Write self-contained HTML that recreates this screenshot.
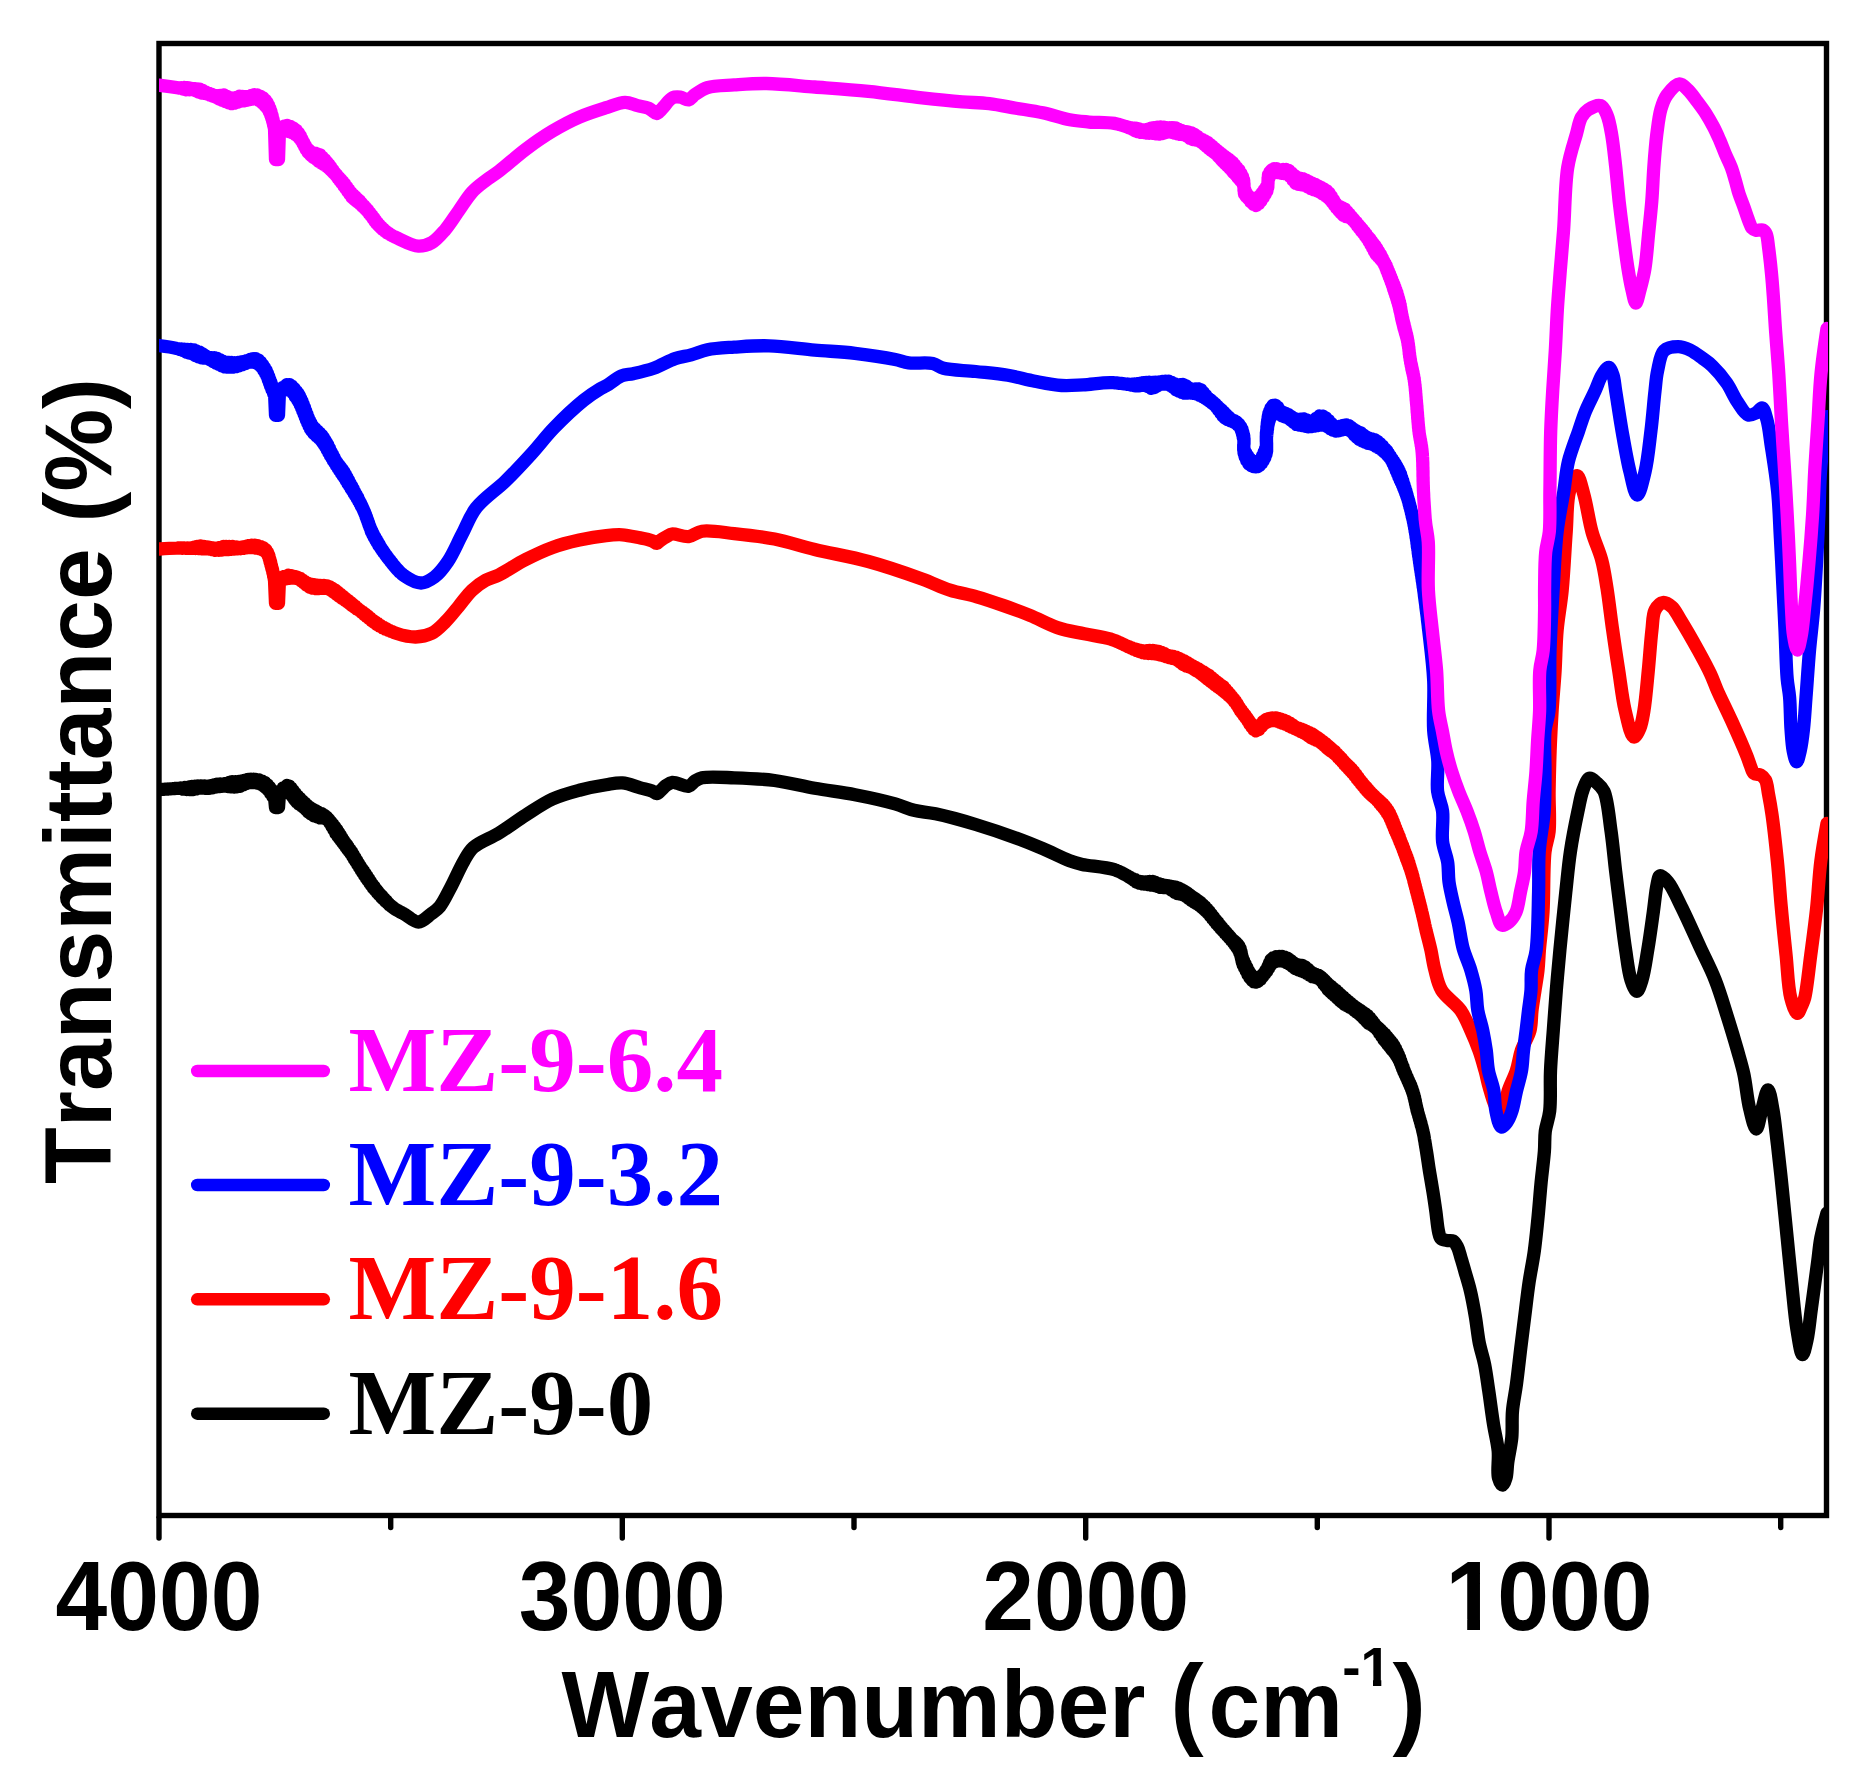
<!DOCTYPE html>
<html lang="en">
<head>
<meta charset="utf-8">
<title>FTIR spectra</title>
<style>
html,body{margin:0;padding:0;background:#fff;}
body{width:1863px;height:1790px;overflow:hidden;}
svg{display:block;}
text{font-kerning:none;}
.sans{font-family:"Liberation Sans",Arial,Helvetica,sans-serif;font-weight:bold;}
.serif{font-family:"Liberation Serif","Times New Roman",Times,serif;font-weight:bold;}
</style>
</head>
<body>
<svg width="1863" height="1790" viewBox="0 0 1863 1790">
<rect x="0" y="0" width="1863" height="1790" fill="#ffffff"/>
<defs><clipPath id="plotclip"><rect x="159" y="40" width="1669" height="1480"/></clipPath></defs>
<g id="frame" fill="none" stroke="#000" stroke-width="5.4" stroke-linecap="butt">
<rect x="159.0" y="43.5" width="1667.5" height="1472.0"/>
<line x1="159.0" y1="1518.0" x2="159.0" y2="1538.0" stroke-linecap="round"/>
<line x1="622.3" y1="1518.0" x2="622.3" y2="1538.0" stroke-linecap="round"/>
<line x1="1085.7" y1="1518.0" x2="1085.7" y2="1538.0" stroke-linecap="round"/>
<line x1="1549.0" y1="1518.0" x2="1549.0" y2="1538.0" stroke-linecap="round"/>
<line x1="390.7" y1="1518.0" x2="390.7" y2="1527.5" stroke-linecap="round"/>
<line x1="854.0" y1="1518.0" x2="854.0" y2="1527.5" stroke-linecap="round"/>
<line x1="1317.3" y1="1518.0" x2="1317.3" y2="1527.5" stroke-linecap="round"/>
<line x1="1780.7" y1="1518.0" x2="1780.7" y2="1527.5" stroke-linecap="round"/>
</g>
<g id="curves" clip-path="url(#plotclip)" fill="none" stroke-width="13.3" stroke-linejoin="round" stroke-linecap="round">
<path id="c-black" stroke="#000000" d="M159 789.7L159.1 789.7L159.6 789.7L160.3 789.6L161.2 789.5L162.3 789.4L163.7 789.3L165.2 789.2L166.8 789.1L168.6 789L170.5 788.8L172.5 788.7L174.5 788.5L176.6 788.4L178.6 788.4L180.7 787.9L182.8 789L184.8 787.6L186.7 789.5L188.6 787L190.3 789.7L191.8 786.5L193.3 789.6L194.8 786.2L196.3 788.9L197.9 785.9L199.4 788L201 785.8L202.6 788.1L204.2 786L205.8 788.4L207.4 786.2L209 788.4L210.7 785.6L212.3 787.8L213.9 784.8L215.5 787.2L217.1 784.2L218.6 786.7L220.2 784L221.8 786.3L223.3 783.9L224.8 786.1L226.2 783.3L227.7 786.5L229.1 782.5L230.5 786.9L232.2 781.6L233.8 787L235.5 781.6L237.2 786.8L238.8 781.5L240.4 786.3L242 780.9L243.6 784.9L245.2 780.1L246.7 783.5L248.1 779.4L249.6 782.7L251 779.2L252.3 782.6L253.6 779.2L254.8 782.7L256 779.5L257.7 783.2L259.4 780L260.9 784.4L262.3 781.1L263.6 785.9L264.8 782.5L266 787.8L267.3 784.7L268.5 790.5L269.6 787.3L270.6 793.4L271.5 790L272.8 796.8L274 794.3L274.5 797L275.5 807.5L278.5 807.5L279.5 793L280 791.3L281.4 793.7L283.2 787.9L285.2 791.7L286.9 785.4L287.9 791.9L289 786L290 793.6L291 788.1L292.1 796.2L293.1 790.8L294.2 799.2L295.3 793.6L296.5 801.9L297.6 796.2L298.7 803.8L299.9 798.5L301.1 805.5L302.3 800.9L303.5 807.2L304.7 803.2L305.9 809.6L307.2 805.3L308.4 812L309.7 807.3L311 814.1L312.5 809.1L314 815.8L315.5 810.7L317 816.9L318.6 812.2L320.1 817.9L321.6 813.6L323.1 818L324.5 815.3L325.6 818.8L326.7 817.2L327.8 820L328.8 819.4L329.8 822.9L330.8 821.8L331.8 826.3L332.8 824.3L333.8 829.8L334.8 827L335.8 833.4L336.9 829.9L337.9 836.2L338.7 832.7L339.5 838.2L340.3 835.2L341.1 840.4L341.9 837.8L342.7 842.6L343.5 840.5L344.3 844.9L345.2 842.8L346 847L346.8 845L347.6 849.2L348.4 847.3L349.3 851.5L350.1 849.6L350.9 853.7L351.8 851.9L352.6 856.2L353.4 854.8L354.2 859L355.1 857.7L355.9 861.7L356.8 860.5L357.6 864.5L358.5 863.4L359.3 867.2L360.2 866.3L361 869.9L361.9 868.7L362.7 872.6L363.6 871.2L364.4 875.2L365.3 873.7L366.2 877.9L367 876.2L367.9 880.4L368.8 878.9L369.7 882.9L370.5 881.6L371.4 885.4L372.3 884.3L373.2 887.8L374.1 886.8L375.1 890.1L376.1 889.5L377.1 892.4L378.1 891.9L379.1 894.6L380.2 894.2L381.2 896.7L382.2 896.5L383.3 898.8L384.3 898.8L385.3 901L386.4 901.1L387.4 903L388.4 903.3L389.5 904.9L390.5 905.3L391.5 906.5L392.9 907.3L394.2 908.4L395.6 909.3L396.9 910.1L398.3 910.8L399.6 911.6L400.9 912.3L402.3 913L403.6 913.7L405 914.5C409.5 917.1 414 922.1 418.4 922C422.7 921.9 427.3 916.8 431 914C434.3 911.5 437.1 909.8 439.9 906.4C443.7 901.8 446.9 894.5 450.6 887.6C454.9 879.5 459.7 868.1 464 860.8C467.2 855.4 468.9 851.5 473.4 847.4C479.4 841.9 490.4 838.3 498.9 833.1C507.8 827.6 516.7 820.8 525.7 815.1C534.6 809.5 543.4 803.2 552.6 799C561.3 795 570.4 792.6 579.4 790.2C588.3 787.9 598.4 786 606.2 784.8C612.2 783.8 616.8 782.5 622.3 782.9C628.2 783.3 634.9 786.3 640.3 787.8C644.6 789 649 789.8 652 791C653.9 791.8 655.1 793.7 656.6 793.6C658.1 793.5 659.5 791.6 661 790.3C662.7 788.9 664.1 786.8 666 785.5C667.9 784.2 669.8 782.7 672.5 782.4C676.6 782 684.6 787.1 688.6 786.2C691.4 785.6 692.7 782.4 695 781C697.2 779.6 698.7 778.5 702 777.8C708.7 776.3 722.9 777.4 734.2 777.8C746.9 778.2 761.1 778.8 774.5 780.5C788 782.3 801.3 785.9 814.7 788.3C828.1 790.7 841.6 792.1 855 794.7C868.5 797.3 884.4 800.8 895.2 803.9C902.7 806 907.5 808.7 914 810.3C920.9 812 927.3 812 935.5 813.8C946.9 816.2 962.4 820.5 975.7 824.5C989.2 828.6 1004 833.6 1016 838C1025.9 841.6 1033.9 844.9 1042.8 848.7C1051.8 852.5 1062.4 858.1 1069.7 860.8C1074.6 862.6 1077 863.2 1082.2 864.4C1090.4 866.2 1104.5 866.6 1114.4 869.7L1115.9 870.2L1117.3 870.8L1118.8 871.4L1120.2 872L1121.6 872.8L1123 873.5L1124.4 874.2L1125.8 875L1127.1 875.7L1128.5 876.7L1129.8 877.2L1131.2 878.5L1132.5 878.6L1133.8 880.3L1135.1 879.8L1136.4 882L1137.7 880.8L1138.9 883L1140.2 881.5L1141.9 883.8L1143.5 881.8L1145 884.2L1146.6 881.8L1148.1 884.7L1149.6 881.4L1151.1 885L1152.7 881.5L1154.2 885.5L1155.8 882.5L1157.4 886.4L1158.8 883.7L1160.2 887.4L1161.6 884.5L1163 887.5L1164.4 885.1L1165.9 887.7L1167.3 885.7L1168.8 888.4L1170.2 886.2L1171.7 890.3L1173.1 886.6L1174.6 892.3L1176 887.1L1177.4 893.6L1178.8 888.3L1180.2 894.1L1181.6 889.5L1182.9 894.8L1184.3 890.9L1185.7 896.2L1187 892.8L1188.4 898.3L1189.7 894.8L1191.1 900.4L1192.4 896.8L1193.8 902.1L1195.1 898.6L1196.4 903.6L1197.7 900.4L1199 905.3L1200.3 902.4L1201.4 907.1L1202.6 904.5L1203.7 909L1204.8 906.6L1205.9 911.1L1207 908.9L1208.1 913.3L1209.2 911.5L1210.3 915.9L1211.4 914.3L1212.5 918.6L1213.6 917.1L1214.6 921.3L1215.7 919.9L1216.7 923.9L1217.8 922.4L1218.8 926.2L1219.8 924.9L1220.8 928.5L1221.8 927.3L1222.8 930.7L1223.9 929.8L1225 933L1226 932.2L1227.1 935.4L1228.2 934.6L1229.2 937.8L1230.3 937.1L1231.3 940.1L1232.3 939.4L1233.3 942.5L1234.2 941L1235.1 945L1236 942.7L1236.8 947.4L1237.6 944.4L1238.3 949.7L1238.9 946.2L1239.6 952.4L1240.2 948.8L1240.7 955.5L1241.1 951.9L1241.4 958.5L1241.7 954.9L1242.1 961.5L1242.5 958L1243 964.6L1243.7 961.1L1244.4 967.5L1245.2 964.2L1246 970.8L1246.9 967.7L1247.8 974.4L1248.7 971.2L1249.7 977.5L1250.7 974.1L1251.7 980L1252.7 976.4L1253.7 981.7L1254.7 977.6L1255.7 982.2L1256.8 977.9L1258 981.4L1259.2 977.4L1260.4 979.3L1261.6 975.7L1262.8 976.4L1263.9 973.6L1265 973.4L1266 970L1266.9 971.1L1267.9 966.7L1268.7 968.3L1269.4 963.1L1270.1 965.5L1270.9 959.9L1272 963.5L1273.2 957.8L1274.6 961.9L1276 956.7L1277.6 961L1279.2 956.4L1280.8 960.9L1282.1 956.4L1283.4 961.3L1284.8 957.1L1286.2 962.4L1287.7 958.2L1289.2 964.1L1290.7 960.4L1292.2 966.4L1293.8 962.8L1295.3 968.6L1296.9 964.7L1298.2 969.9L1299.5 965.1L1300.9 970.9L1302.3 965.5L1303.7 971.9L1305.1 966.8L1306.6 973.4L1308 969.3L1309.4 975.1L1310.9 971.8L1312.2 976.7L1313.6 973.3L1314.9 977.3L1316.1 974.3L1317.3 978.1L1318.4 975.3L1319.7 979.2L1320.8 976.8L1321.9 981.6L1322.9 978.7L1323.8 984.1L1324.8 980.7L1325.8 986.7L1326.8 982.7L1327.9 989.5L1329.1 984.9L1330.1 991.6L1331.1 986.6L1332.2 993.6L1333.3 988.4L1334.5 995.7L1335.7 990.2L1336.9 997.8L1338.1 992.4L1339.3 1000L1340.6 994.7L1341.8 1002.2L1343.1 997L1344.4 1004.3L1345.6 999.2L1346.9 1005.7L1348.2 1001.3L1349.4 1007.1L1350.6 1003.3L1351.8 1008.4L1353 1005.2L1354.2 1010.3L1355.4 1007L1356.6 1012.1L1357.8 1008.7L1359 1013.8L1360.2 1010.3L1361.4 1016L1362.6 1012L1363.8 1018.5L1365 1013.7L1366.2 1021L1367.4 1015.5L1368.6 1023.3L1369.8 1018L1370.9 1024.7L1372.1 1020.7L1373.1 1026.1L1374.2 1023.4L1375.2 1027.6L1376.3 1026L1377.4 1030.1L1378.5 1028L1379.5 1033.2L1380.6 1030L1381.7 1036.4L1382.7 1032.2L1383.8 1039.6L1384.8 1034.4L1385.8 1042.1L1386.9 1036.7L1387.8 1044.5L1388.8 1039L1389.7 1046.9L1390.7 1041.3L1391.5 1049.3L1392.4 1043.6L1393.2 1051.2L1394 1046L1394.7 1053.1L1395.6 1048.8L1396.4 1055.4L1397.1 1051.9L1397.8 1057.7L1398.5 1054.9L1399.1 1060.2L1399.7 1058L1400.3 1062.8L1400.8 1061.1L1401.4 1065.6L1401.9 1064.2L1402.5 1068.5L1403.1 1067.4L1403.7 1071.4L1404.3 1070.5L1405 1074.3L1405.6 1073.7L1406.3 1077.1L1407 1076.8L1407.6 1080L1408.3 1079.8L1408.9 1082.9L1409.6 1082.7L1410.2 1085.9L1410.8 1085.5L1411.3 1088.8L1411.9 1088.4L1412.4 1091.7L1412.9 1091.4L1413.4 1094.8L1413.8 1094.5L1414.2 1097.9L1414.6 1097.6L1414.9 1101L1415.3 1100.7L1415.6 1104.1L1415.9 1103.9L1416.3 1107.2L1416.6 1107L1417 1110.1L1417.4 1110.2L1417.8 1113.1L1418.2 1113.4L1418.7 1116.1L1419.1 1116.6L1419.6 1119.1L1420 1119.8L1420.5 1122.2L1420.9 1123L1421.3 1125.2L1421.7 1126.2L1422.2 1128.2L1422.5 1129.4L1422.9 1131.3L1423.2 1132.5L1423.6 1134.3L1423.9 1135.7L1424.2 1137.4L1424.4 1138.9L1424.7 1140.5L1425 1142L1425.2 1143.6L1425.5 1145.1L1425.7 1146.7L1426 1148.2L1426.2 1149.8L1426.5 1151.3C1427.6 1158 1428.4 1164.7 1429.5 1171.4C1430.6 1178.1 1431.8 1184.8 1432.9 1191.5C1434 1198.2 1434.9 1205 1435.9 1211.7C1436.8 1218.4 1437.4 1226.9 1438.6 1231.8C1439.3 1234.7 1439.5 1237.1 1441 1238.5C1442.4 1239.9 1445 1240.1 1447 1240.5C1449 1240.9 1451.3 1240.1 1453 1241C1454.9 1242 1456.2 1244.6 1457.5 1247C1459.1 1250 1459.8 1254.1 1461 1258C1462.3 1262.4 1463.7 1267.1 1465.1 1272.1C1466.8 1277.9 1468.8 1284.2 1470.4 1291C1472.3 1298.9 1473.9 1308.1 1475.4 1316.8C1476.9 1325.7 1477.7 1335.4 1479.4 1343.7C1480.9 1350.9 1483 1356.6 1484.5 1363.8C1486.2 1372.1 1487.3 1381.2 1488.7 1390.6C1490.3 1401.2 1491.8 1413.6 1493.5 1424.2C1495 1433.7 1497.4 1442 1498.2 1451C1499 1459.9 1496.8 1472.1 1498.5 1478C1499.4 1481.3 1501.4 1485.1 1502.7 1485C1503.9 1484.9 1505.2 1480.9 1506 1478C1507.2 1473.8 1507 1467.9 1507.8 1462C1508.8 1454.7 1511 1446 1511.8 1437.6C1512.6 1428.9 1511.7 1419.7 1512.5 1410.8C1513.3 1401.8 1515.2 1393.8 1516.5 1383.9C1518.1 1371.9 1519.7 1356.5 1521.3 1343.7C1522.7 1332 1524.1 1320.8 1525.5 1310.1C1526.7 1300.3 1527.7 1291.6 1529.1 1282.1C1530.6 1272.2 1532.8 1262 1534.2 1251.9C1535.6 1241.9 1536.5 1232.5 1537.6 1221.7C1538.9 1209.3 1540 1193.9 1541.2 1181.5C1542.3 1170.7 1543.7 1160.4 1544.4 1151.3C1545 1143.9 1544.4 1137.9 1545.3 1131.2C1546.2 1124.4 1548.8 1118.9 1549.7 1111C1551 1099.9 1549.9 1084.2 1550.5 1070.8C1551.1 1057.4 1552.3 1043.9 1553.3 1030.5C1554.3 1017.1 1555.2 1003.7 1556.3 990.3C1557.4 976.9 1558.5 964.7 1559.9 950C1561.6 932.4 1563.9 909.5 1565.8 891.9C1567.4 877.3 1568.4 865.1 1570.4 851.7C1572.4 838.2 1575.5 822.7 1577.9 811.4C1579.7 803.1 1580.7 796 1583 790C1584.8 785.3 1586.8 778.9 1589.5 778.2C1591.7 777.6 1594.7 781 1597 783C1599.6 785.2 1602 787.1 1604 791.3C1607.8 799.4 1609.1 818.1 1611.1 831.5C1613 844.9 1614.1 858.4 1615.7 871.8C1617.3 885.2 1619 899 1620.7 912.1C1622.3 924.7 1623.7 937.3 1625.5 949C1627.2 959.8 1628.4 972.4 1631 980C1632.6 984.9 1635 991.3 1636.8 991.3C1638.6 991.3 1640.5 984.8 1642 980C1644.5 972.3 1646.1 959.8 1647.9 949C1649.9 937.3 1651.7 923.5 1653.3 912.1C1654.7 902.4 1655.5 891.6 1657 885C1657.9 881.1 1658.2 876.4 1660 875.8C1661.8 875.2 1665.3 878.8 1668 882C1672.6 887.4 1677.2 898.3 1682 908C1687.9 919.9 1694.8 935.7 1700.6 948.3C1705.8 959.5 1710.9 969 1715.2 980C1719.7 991.3 1723.2 1003.4 1726.9 1015.2C1730.6 1026.9 1734.5 1039.8 1737.5 1050.4C1739.9 1059 1741.9 1065.2 1743.8 1073.9C1746.1 1084.4 1747.2 1099 1749.7 1109C1751.6 1116.7 1754.2 1129 1756.3 1129C1758.3 1129 1760 1115.6 1762 1109C1763.9 1102.5 1766.2 1089.7 1768 1089.8C1769.9 1089.9 1771.6 1102.3 1773 1110C1774.8 1119.9 1775.9 1131.9 1777.4 1144.2C1779.1 1158.6 1780.9 1175.5 1782.5 1191.2C1784.1 1206.8 1785.6 1222.5 1787.2 1238.1C1788.8 1253.7 1790.2 1269.5 1791.9 1285C1793.5 1300.2 1794.9 1317.3 1797 1330C1798.6 1339.4 1800.6 1354.4 1802.5 1354.5C1804 1354.6 1805.7 1345.8 1807 1340C1808.9 1331.6 1809.8 1320 1811.4 1308.5C1813.3 1294.4 1816 1274.6 1817.7 1261.6C1818.9 1252.4 1819.3 1246 1820.8 1238.1C1822.4 1229.8 1827 1213 1827 1213"/>
<path id="c-red" stroke="#ff0000" d="M159 549C159 549 170.3 548.2 176.8 548.1L178.2 548L179.7 548.1L181.2 547.9L182.7 548.3L184.3 548L185.9 548.4L187.5 547.9L189.1 548.4L190.7 547.9L192.4 548.3L194 547.3L195.6 548.5L197.3 546.5L198.9 548.7L200.5 545.9L202.1 548.8L203.7 546.4L205.3 548.9L206.9 546.8L208.6 549L210.2 547.3L211.9 549.7L213.5 547.9L215.2 550.4L216.9 548.1L218.5 550.3L220.1 547.3L221.7 550L223.3 546.5L224.8 549.7L226.3 546.3L227.8 549.6L229.2 546.3L230.5 549.4L232.4 546.4L234.2 549.2L235.9 547L237.5 548.9L239.1 547.5L240.7 548.6L242.3 547.2L243.9 548.3L245.5 546.4L247 547.9L248.6 545.6L250.1 547.6L251.6 545.2L253.1 547.6L254.6 545.2L256 548.2L257.6 545.7L259.1 548.7L260.7 546.6L262.2 549.8L263.6 548L264.9 551.4L266 549.9L266.9 553.4L267.6 552.3L268.2 556L268.8 555.2L269.3 559.1L269.7 558.5L270.1 562.3L270.6 561.8L271 565.5L271.4 565L271.9 568.8L272.4 568.8L272.9 572.9L273.3 572.8L273.7 576.8L274 576.3L274.3 579.7L274.4 578.4L274.5 580L275.5 603.3L278.5 603.3L279.5 579L280.1 578.3L281.7 580.1L283.9 576.6L286.2 578.8L288.2 575.2L289.7 578.3L291.3 575.6L292.8 578.1L294.4 576.3L296 578.3L297.6 577.2L298.9 579.3L300.2 578.3L301.4 581L302.7 580.1L304.1 583.1L305.4 581.9L306.7 585.3L308.1 583.3L309.6 587.1L311 584.1L312.5 588.1L314.1 584.7L315.7 588.5L317.3 585.1L319 588.6L320.6 585.3L322.3 588.3L323.9 585.3L325.5 588.3L327.1 585.9L328.5 589L329.9 587L331.2 590.6L332.6 588.5L333.9 592.4L335.3 590.2L336.6 594.4L337.9 592.2L339.2 596.3L340.6 594.4L341.9 598.2L343.2 596.5L344.4 599.9L345.7 598.5L346.9 601.7L348.1 600.4L349.4 603.6L350.6 602.3L351.8 605.5L353 604.4L354.3 607.2L355.5 606.5L356.8 608.9L358 608.6L359.3 610.6L360.5 610.7L361.7 612.5L363 612.4L364.2 614.5L365.4 614.2L366.7 616.6L367.9 616.1L369.2 618.6L370.4 618.2L371.7 620.7L372.9 620.2L374.2 622.6L375.5 622.1L376.8 624.4L378.1 623.9L379.5 626L380.9 625.7L382.3 627.6L383.8 627.4L385.2 629L386.6 629L388.1 630.2L389.6 630.5L391 631.4L392.5 631.8L394 632.5L395.4 633L396.9 633.5C403 635.5 409.7 637.1 415.7 637C421.3 636.9 426.9 635.7 431.8 633.3C436.8 630.8 440.9 626.3 445.2 622C449.9 617.4 454.2 611.7 458.6 606.4C463.1 601.1 467.2 594.8 472 590.3C476.3 586.3 480.8 583 485.5 580.4C489.8 578 493.8 577.5 498.9 575C506.4 571.3 516.6 564.1 525.7 559.5C534.5 555 543.5 550.7 552.6 547.4C561.4 544.2 570.4 542.1 579.4 540.1C588.3 538.1 598.4 536.4 606.2 535.6C612.2 534.9 616.8 534.5 622.3 534.8C628.2 535.2 635.8 537.1 640.3 537.9C643.1 538.4 644.9 538.7 647 539.2C648.9 539.7 650.8 540.3 652.5 541C654.1 541.7 655.4 543.5 656.8 543.4C658.3 543.3 659.4 541.1 661 540C662.8 538.7 665.1 537.3 667 536.3C668.7 535.4 669.8 534.3 672 534C675.9 533.5 683.4 537.2 688.6 536.6C693.4 536.1 696.4 532.1 702 531.2C710.3 529.9 722.9 532.4 734.2 533.6C746.9 534.9 761.2 536.4 774.5 539C788 541.7 800.3 546 814.7 549.5C831.3 553.5 850.6 556.6 868.4 561.5C886.4 566.4 907.1 573.6 922 579C932.9 582.9 940.7 587.1 950 590.1C958.9 593 967.9 594.2 976.8 596.8C985.8 599.4 994.8 602.5 1003.7 605.6C1012.7 608.7 1021.6 612 1030.5 615.6C1039.5 619.3 1048.3 624.5 1057.4 627.6C1066.2 630.6 1075.3 631.9 1084.2 633.8C1093.1 635.7 1102.2 636.5 1111 639.2L1112.4 639.7L1113.9 640.2L1115.3 640.7L1116.7 641.3L1118.1 641.9L1119.5 642.6L1120.9 643.2L1122.3 643.9L1123.7 644.5L1125.1 645.2L1126.6 645.8L1128 646.7L1129.4 646.9L1130.8 648L1132.2 648L1133.6 649.3L1135 649L1136.5 650.5L1137.9 649.8L1139.4 651.6L1140.8 650.4L1142.3 652.6L1143.8 650.8L1145.3 653.2L1146.8 650.7L1148.3 653.5L1149.8 650.4L1151.3 653.6L1152.8 650.4L1154.3 653.9L1155.8 650.9L1157.3 654.4L1158.8 651.5L1160.3 655L1161.8 652.4L1163.2 655.7L1164.7 653.7L1166.1 656.7L1167.6 655.2L1169 657.7L1170.4 655.8L1171.9 658.3L1173.3 656.4L1174.7 659L1176.1 657.1L1177.5 660.4L1178.9 658.3L1180.3 662.4L1181.7 659.6L1183.1 664.5L1184.5 661L1185.9 665.8L1187.3 662.6L1188.7 666.9L1190.1 664.3L1191.5 667.9L1192.8 665.8L1194.1 669.4L1195.5 667.3L1196.8 671.1L1198.2 668.8L1199.5 672.8L1200.8 670.3L1202.2 674.9L1203.5 671.9L1204.9 677L1206.2 673.6L1207.5 679.2L1208.8 675.4L1210.1 681.1L1211.4 677.4L1212.6 683L1213.8 679.5L1215 684.9L1216.2 681.5L1217.3 686.6L1218.4 683L1219.7 688.2L1220.9 684.9L1222.1 690.1L1223.3 686.8L1224.4 691.9L1225.5 689.1L1226.6 693.7L1227.7 691.6L1228.7 695.6L1229.8 694.1L1230.8 697.4L1231.7 696.5L1232.7 699.4L1233.6 698.8L1234.5 701.7L1235.6 701.4L1236.6 704.6L1237.5 704.3L1238.5 707.4L1239.3 707.2L1240.2 710.3L1241.1 709.8L1242 712.8L1242.9 712.3L1243.9 715.4L1244.8 714.8L1245.8 718L1246.8 717.5L1247.8 720.9L1248.8 720.4L1249.8 724.2L1250.8 723.3L1251.9 727.2L1252.9 725.7L1253.9 729.6L1255 727.2L1256 730.9L1257.4 727.1L1258.8 729.5L1260.2 724.8L1261.6 726.6L1263.1 721.6L1264.5 723.6L1266 719.5L1267.6 722L1269.2 718.5L1270.8 720.9L1272.4 717.9L1274.2 720.6L1276.1 717.9L1277.3 721.3L1278.5 718.4L1279.8 722.2L1281.2 719.2L1282.5 723.2L1284 720.2L1285.4 724.3L1286.9 721.4L1288.4 725.7L1289.9 723.1L1291.4 727.1L1292.9 725.1L1294.4 728.6L1295.9 727.1L1297.4 730L1298.9 728.2L1300.2 731.3L1301.5 729.2L1302.9 732.5L1304.2 730.2L1305.6 734.1L1306.9 731.4L1308.3 735.9L1309.6 732.6L1311 737.8L1312.4 734L1313.7 739.1L1315.1 735.8L1316.5 740.3L1317.8 737.7L1319.1 741.5L1320.5 739.7L1321.8 743.4L1323.1 741.6L1324.4 745.7L1325.7 743.7L1326.8 747.9L1328 745.6L1329.1 749.8L1330.2 747.5L1331.4 751.5L1332.5 749.5L1333.6 753.2L1334.8 751.5L1335.9 755L1337 753.8L1338.1 757.3L1339.2 756.1L1340.3 759.7L1341.4 758.5L1342.5 762.1L1343.5 760.9L1344.6 764.5L1345.6 763.1L1346.7 766.7L1347.7 765.1L1348.7 768.9L1349.7 767.1L1350.7 771L1351.6 769L1352.6 773.2L1353.7 771.6L1354.9 775.9L1356 774.5L1357 778.6L1358.1 777.3L1359.1 781.3L1360.1 780.1L1361.1 783.8L1362.1 782.5L1363.1 786.2L1364.1 784.8L1365.1 788.6L1366.1 787.2L1367.1 790.9L1368.1 789.6L1369.1 793.1L1370.1 791.8L1371.1 795L1372.2 793.9L1373.2 796.9L1374.3 795.9L1375.4 798.8L1376.4 798L1377.5 801L1378.6 799.9L1379.7 803.4L1380.7 801.8L1381.7 805.8L1382.7 803.8L1383.7 808.2L1384.6 805.9L1385.5 810.7L1386.4 808.2L1387.2 813.2L1388.1 810.7L1388.9 816L1389.6 813.4L1390.3 818.9L1391 816.3L1391.6 821.9L1392.2 819.1L1392.8 824.8L1393.4 822.1L1394 827.6L1394.5 825.1L1395.1 830.4L1395.7 828.1L1396.3 833.2L1396.9 831.1L1397.5 835.9L1398.1 834.1L1398.7 838.6L1399.3 837L1399.8 841.4L1400.4 840L1401 844.2L1401.5 842.9L1402.1 847.1L1402.7 845.8L1403.2 850L1403.8 848.7L1404.3 852.9L1404.8 851.6L1405.4 855.7L1405.9 854.4L1406.4 858.6L1407 857.3L1407.5 861.4L1408 860.2L1408.5 864.2L1409 863.3L1409.5 867L1410 866.4L1410.5 869.8L1410.9 869.4L1411.4 872.6L1411.9 872.5L1412.3 875.7L1412.8 875.7L1413.2 878.7L1413.6 878.9L1414 881.7L1414.4 882.1L1414.8 884.8L1415.2 885.3L1415.6 887.8L1416 888.5L1416.4 890.9L1416.8 891.6L1417.2 893.9L1417.6 894.8L1418 897L1418.4 897.9L1418.8 900L1419.2 901.1L1419.6 903.1L1420 904.2L1420.4 906.2L1420.8 907.4L1421.1 909.2L1421.5 910.5L1421.9 912.3L1422.3 913.6L1422.6 915.4L1423 916.7L1423.3 918.4L1423.7 919.9L1424.1 921.5L1424.4 923L1424.7 924.6L1425.1 926.1L1425.4 927.6L1425.8 929.2L1426.1 930.7L1426.5 932.2C1428 938.3 1429.5 943.9 1430.9 950C1432.3 956.5 1433.1 963.4 1434.9 970.1C1436.7 976.9 1437.8 984 1441.6 990.3C1445.9 997.5 1455.7 1003.3 1460.7 1010.4C1465.2 1016.8 1467.7 1023.7 1470.8 1030.5C1473.8 1037.1 1476.6 1043.8 1479 1050.6C1481.4 1057.3 1483.3 1064.4 1485.1 1070.8C1486.7 1076.5 1487.5 1081.4 1489.1 1086.9C1490.8 1092.8 1492.6 1100.3 1495 1105C1496.8 1108.4 1499.3 1113.2 1501 1113C1502.6 1112.9 1503.9 1108.1 1505 1105C1506.4 1101 1506.6 1095.9 1508.2 1090.9C1510.1 1084.7 1514.1 1077.6 1516.3 1070.8C1518.5 1064.1 1519.1 1057.2 1521.3 1050.6C1523.6 1043.8 1528.2 1037.3 1530 1030.5C1531.7 1023.9 1531.2 1017.1 1532 1010.4C1532.8 1003.7 1534 997 1535 990.3C1536 983.6 1537.3 976.8 1538 970.1C1538.7 963.4 1538.8 957.7 1539.4 950C1540.3 939.3 1542.1 926.2 1543 912.1C1544.1 894.3 1543.3 866.4 1545 851.7C1546 843.1 1548.3 839.4 1549.1 831.5C1550.2 820.4 1548.9 804.7 1549.1 791.3C1549.3 777.9 1549.6 764.4 1550.1 751C1550.6 737.6 1551.3 724.2 1552.1 710.8C1552.9 697.4 1554.3 683.9 1555.1 670.5C1555.9 657.1 1555.9 643.7 1557.1 630.3C1558.3 616.9 1560.8 604.7 1562.2 590C1563.9 572.4 1564.9 549.5 1566.2 531.9C1567.3 517.3 1566.7 501.9 1569.4 491.7C1571.2 484.9 1574.7 475.5 1577.1 475.6C1579.6 475.7 1581.8 487.4 1584 495C1586.9 505.3 1588.8 520.5 1592 531.9C1594.8 542 1599.2 550.5 1601.7 560C1604.2 569.3 1605.3 577.9 1607 588.3C1609 600.9 1610.7 616.5 1612.7 630.3C1614.6 643.9 1616.6 657.1 1618.7 670.5C1620.8 683.9 1622.3 698.9 1625.2 710.8C1627.6 720.6 1630.7 736.6 1633.8 737C1635.8 737.3 1638.4 731.7 1640 728C1642 723.3 1642.7 717.8 1643.9 710.8C1645.7 700.2 1647 683.9 1648.3 670.5C1649.6 657.1 1650.6 641.4 1651.9 630.3C1652.9 622.4 1652.5 614.9 1655 610.1C1656.9 606.5 1660.1 602.9 1663 602.5C1665.8 602.1 1669.4 604.7 1672 607C1675.2 609.8 1676.9 614 1680 619C1684.9 626.9 1692.8 640.6 1698.2 650.4C1702.8 658.7 1707.1 666.7 1710.5 673.9C1713.3 679.9 1714.6 684.3 1717.4 690.6C1721.2 699.2 1726.9 710.3 1731.6 720.8C1736.7 732 1743.6 747.8 1746.9 756C1748.6 760.3 1749.2 762.9 1750.5 766C1751.6 768.7 1752.2 772 1754 773.5C1755.6 774.8 1758.6 773.9 1760.5 775C1762.5 776.1 1764.2 777.7 1765.5 780C1767.3 783.3 1767.5 788.9 1768.5 794C1769.7 800.2 1770.8 806.3 1772 814.6C1773.8 827 1775.8 845.8 1777.4 861.5C1779 877.1 1779.9 892.8 1781.4 908.5C1782.8 924.1 1784.5 940.2 1786.1 955.4C1787.6 969.8 1788 987.1 1790.7 997.6C1792.4 1004.3 1795.2 1013.2 1797.3 1013.3C1798.9 1013.4 1800.7 1007.7 1802 1005C1803.2 1002.5 1803.9 1001.1 1804.8 997.6C1806.9 989.4 1808.8 969.8 1810.7 955.4C1812.7 940.2 1814.9 924.2 1816.6 908.5C1818.3 892.9 1818.9 876.3 1820.8 861.5C1822.5 848.1 1827 823.5 1827 823.5"/>
<path id="c-blue" stroke="#0000ff" d="M159 345.5C159 345.5 170.6 347 176.8 348.4L178.3 348.7L179.8 349.4L181.3 348.9L182.9 350.7L184.4 349.2L186 352L187.5 349.4L189.1 353L190.7 349.5L192.2 353.9L193.8 349.8L195.3 355.5L196.8 351L198.3 356.9L199.8 352.2L201.3 357.8L202.8 353.9L204.2 358.2L205.7 355.8L207.1 358.5L208.6 357.3L210 359.8L211.5 357.6L212.9 361.5L214.3 357.7L215.7 363L217.1 358.4L218.6 364.4L220.1 359.8L221.6 365.8L223.2 361.3L224.7 366.9L226.2 362.1L227.6 367.1L229.1 362.4L230.5 367.1L231.9 362.5L233.2 367L234.8 362.7L236.4 366.6L237.9 362.5L239.4 365.8L240.9 362L242.4 364.7L243.9 361.4L245.4 363.7L247 360.6L248.5 362.4L250.1 359.4L251.7 362.1L253.2 358.6L254.6 362.5L256 358.7L257.2 363.5L258.4 360L259.5 365.1L260.6 362.2L261.7 367.4L262.7 364.9L263.6 370.1L264.5 367.8L265.4 373.1L266.2 370.6L266.9 376.3L267.6 373.6L268.2 379.6L268.8 376.7L269.4 382.9L269.9 379.8L270.5 386L271 382.6L271.9 389.6L272.8 386.8L273.6 393.6L274.3 390.3L274.5 392L275.5 415.3L278.5 415.3L279.5 391L280 390.1L281.1 392.6L282.8 387.5L284.7 389.8L286.6 384.7L288.2 388.2L289.4 384.6L290.6 390.2L291.8 386.2L293 393.1L294.2 388.7L295.3 396.8L296.5 391.6L297.6 400.2L298.3 394.1L298.9 402.3L299.6 396.3L300.2 404.8L300.8 398.8L301.5 407.7L302.1 401.7L302.7 410.7L303.3 404.7L304 413.9L304.6 407.9L305.2 417.1L305.8 411.3L306.4 420.2L307.1 414.7L307.7 423.3L308.3 417.8L309 426.1L309.6 420.8L310.3 428.6L310.9 423.4L311.6 430.7L312.7 426.1L313.8 433.5L315 428.7L316.2 435.8L317.3 431L318.5 437.8L319.6 433.2L320.7 440L321.8 435.5L322.7 442.4L323.5 437.8L324.2 444.7L325 440.2L325.7 447.2L326.5 442.7L327.2 449.8L327.9 445.3L328.7 452.6L329.5 448.6L330.3 455.5L331.2 452.1L331.9 458.2L332.6 454.8L333.3 460.6L334.1 457.6L334.8 463L335.6 460.5L336.4 465.6L337.2 462.9L338.1 468.1L338.9 465.1L339.7 470.7L340.5 467.3L341.4 473.2L342.2 469.6L343 475.7L343.9 471.9L344.7 478.3L345.5 474.7L346.3 480.8L347 477.6L347.8 483.2L348.6 480.4L349.4 485.8L350.1 483.3L350.9 488.3L351.7 486.2L352.5 490.8L353.2 489L354 493.3L354.8 491.9L355.5 495.7L356.3 494.8L357 498.2L357.8 497.6L358.5 500.7L359.2 500.5L359.9 503.2L360.6 503.3L361.3 505.9L361.9 506L362.6 508.5L363.2 508.8L363.8 511.2L364.4 511.6L365 514L365.5 514.4L366.1 516.8L366.6 517.3L367.1 519.6L367.6 520.1L368.1 522.4L368.6 523L369.1 525.4L369.6 525.7L370.2 528.3L370.7 528.5L371.3 531.2L372 531.3L372.6 534.1L373.3 534L374 536.9L374.7 536.6L375.5 539.7L376.2 539.3L377 542.3L377.8 542.1L378.6 544.9L379.4 544.9L380.3 547.5L381.1 547.7L382 550L382.9 550.5L383.8 552.5L384.6 553.1L385.5 554.9L386.4 555.6L387.3 557.2L388.1 558L389 559.4L389.9 560.3L390.7 561.6L391.8 562.7L392.9 564.2L393.9 565.4L395 566.8L396 568L397.1 569.2L398.2 570.3L399.2 571.5L400.3 572.5L401.5 573.5L402.6 574.5L403.8 575.4L405 576.3C409.9 579.6 416 583.1 421.1 583C425.8 582.9 430.3 580.1 434.5 577C439.4 573.4 443.7 567.7 447.9 561.5C453 554 457.2 543.6 461.9 534.7C466.6 525.8 469.6 516.3 476.1 507.9C483.6 498.2 496.3 490.1 505.6 481C514.6 472.2 522.9 463.2 531.1 454.2C539.2 445.4 546 436.1 554.5 427.4C563.4 418.2 574.9 407.4 583.4 400.5C589.5 395.6 595.7 391.6 600 389C602.5 387.5 603.7 387.2 606.2 385.8C610.2 383.5 616.6 377.8 621.5 375.8C625.5 374.2 628.7 374.7 633.1 373.7C639 372.4 646.9 370.7 653.7 368.3C660.9 365.8 668.4 360.9 675.1 358.6C680.7 356.7 685.9 356.4 691.2 354.9C696.6 353.4 701.3 351.1 707.4 349.8C715.1 348.2 724.7 347.8 734.2 347.1C745.1 346.4 756.7 345.4 769.1 345.8C783.3 346.2 800 348.8 814.7 350.1C828.5 351.3 841.6 351.7 855 353.3C868.4 354.9 885.4 357.5 895.2 359.5C900.9 360.7 903.4 362.2 908.6 362.9C915.4 363.8 926.5 362.1 932.8 363.5C937.2 364.5 938.8 367.1 943.5 368.3C951.2 370.4 965 370.3 975.7 371.5C986.4 372.7 997.7 373.6 1007.9 375.3C1017.3 376.9 1025.8 379.5 1034.8 381.2C1043.7 382.9 1053.1 384.9 1061.6 385.5C1069.1 386 1075.5 385.3 1083.1 384.9C1091.6 384.4 1101.2 382.6 1110.1 382.6L1111.6 382.6L1113.2 382.7L1114.8 382.8L1116.4 382.9L1117.9 383.1L1119.5 383.3L1121.1 383.4L1122.7 383.6L1124.3 383.8L1125.8 384L1127.3 384.4L1128.8 384.2L1130.3 385L1131.8 384.2L1133.2 385.5L1134.6 384L1135.9 385.9L1137.6 383.7L1139.1 385.8L1140.6 383.2L1142.1 385.3L1143.5 382.6L1145 385.3L1146.4 382.3L1147.8 386.6L1149.3 382.2L1150.9 388.3L1152.4 382.3L1154 387.7L1155.7 382.2L1157.3 385.8L1159 382L1160.7 384.3L1162.3 381.5L1164 384.1L1165.6 381.2L1167.2 384.1L1168.7 381.2L1170.2 385.4L1171.8 382.3L1173.3 387.5L1174.7 383.8L1176.1 389.8L1177.5 384.7L1178.8 391.1L1180.2 384.7L1181.6 392.4L1183.1 384.5L1184.6 393.2L1186 385.8L1187.6 393.1L1189.1 387.8L1190.7 393L1192.2 389.6L1193.7 393.3L1195.2 389L1196.7 394.1L1198.1 388.8L1199.5 395.3L1200.8 389.7L1202.1 396.6L1203.4 392.5L1204.7 398L1205.9 395.3L1207.2 399.6L1208.4 398.2L1209.7 401.4L1211 400.2L1212.1 403.2L1213.1 402L1214.2 405.1L1215.3 404L1216.4 407.2L1217.5 406.1L1218.5 410.1L1219.6 408.2L1220.7 413.1L1221.8 410.3L1222.9 415.9L1223.9 412.3L1225 418.1L1226.1 414.6L1227.4 419.5L1228.8 417L1230.2 420.8L1231.6 419.3L1233 421.9L1234.4 420.7L1235.6 423.3L1236.8 422.2L1237.9 425L1238.9 424.1L1239.8 427.2L1240.7 426.6L1241.4 430.7L1242 429.4L1242.5 434.3L1242.9 432.4L1243.3 437.9L1243.7 435.6L1243.9 441.3L1244 438.4L1244 444.3L1243.9 441.5L1243.8 447.3L1243.7 444.6L1243.7 450.3L1243.8 447.7L1244.1 453.5L1244.5 450.5L1245.1 456.8L1245.8 453.1L1246.7 460.6L1247.7 456.1L1248.8 464L1249.9 459L1251.1 465.6L1252.2 461.6L1253.4 466.7L1254.5 463.3L1255.5 466.8L1256.5 463.7L1257.5 466.7L1258.5 462.3L1259.5 465.5L1260.5 459.5L1261.5 463.3L1262.4 456L1263.3 460.4L1264.1 452.2L1264.9 457.3L1265.5 448.8L1266 454.5L1266.4 445.7L1266.6 451.6L1266.6 442.6L1266.6 448.4L1266.5 439.4L1266.4 445.2L1266.3 436.1L1266.3 441.8L1266.4 432.6L1266.5 438.7L1266.7 429.8L1266.8 435.7L1266.9 426.6L1267.1 432.5L1267.3 423.3L1267.5 429.3L1267.7 419.9L1267.9 426.1L1268.2 416.7L1268.5 423.2L1268.8 413.7L1269.2 420.6L1269.6 411.1L1270 418.5L1270.9 408.1L1271.8 415.4L1272.9 405.4L1274.1 412.9L1275.4 405.2L1276.5 412.5L1277.7 407.3L1279 414L1280.4 410.6L1281.8 415.7L1283.3 412.3L1284.7 417L1286.2 413.5L1287.6 417.6L1288.9 414.7L1290.4 419.8L1291.8 416.8L1293.3 422.2L1294.7 418.7L1296.2 424.4L1297.6 419.5L1299 425.1L1300.6 419.2L1302.1 425.7L1303.6 418.8L1305.1 426.3L1306.7 420L1308.2 426.8L1309.8 421.1L1311.4 426.7L1313 420.7L1314.6 426.2L1316.2 418.3L1317.9 425.5L1319.5 416L1321.1 425L1322.7 416.1L1324.2 425.1L1325.6 417.8L1327.1 426.5L1328.5 420.5L1329.9 428.5L1331.4 423.5L1332.8 430.2L1334.2 425.9L1335.6 431L1337.1 426.9L1338.7 430.9L1340.2 426.2L1341.7 430L1343.3 425.3L1344.8 429.3L1346.3 424.9L1347.5 429.4L1348.7 425.7L1349.8 430.6L1351 427.3L1352.1 432.4L1353.3 429L1354.4 435L1355.6 430.5L1356.8 437.4L1358 431.7L1359.2 439.3L1360.6 432.7L1362 440.8L1363.4 434.9L1364.9 442.1L1366.3 436.9L1367.8 443.3L1369.2 438.2L1370.6 443.9L1372 438.8L1373.4 445L1374.7 439.8L1376 446.4L1377.4 441.4L1378.7 447.9L1380 443.6L1381.3 449.6L1382.5 446L1383.7 451.6L1384.9 448.6L1385.9 453.5L1386.8 450.9L1387.7 455.5L1388.6 453.5L1389.5 457.7L1390.4 456.2L1391.3 460.1L1392.1 459L1392.9 463.2L1393.7 461.4L1394.5 466.8L1395.3 463.9L1396.1 470.4L1396.8 466.5L1397.5 473.7L1398.2 469L1398.8 476.9L1399.4 471.7L1400.1 480L1400.7 474.7L1401.2 482.4L1401.8 478.1L1402.4 484.9L1402.9 481.4L1403.5 487.5L1404 484.7L1404.5 490.1L1405 488L1405.5 492.7L1406 491.2L1406.5 495.5L1407 494.6L1407.5 498.4L1407.9 498L1408.4 501.4L1408.8 501L1409.2 504.5L1409.6 504L1410 507.5L1410.4 507L1410.8 510.5L1411.1 510L1411.5 513.5L1411.9 513L1412.2 516.6L1412.6 516L1412.9 519.5L1413.2 519L1413.5 522.5L1413.8 521.9L1414.1 525.5L1414.4 525.1L1414.7 528.7L1415 528.5L1415.2 531.8L1415.4 531.2L1415.7 534.5L1415.9 534.1L1416.1 537.5L1416.3 537.2L1416.6 540.5L1416.8 540.4L1417 543.6L1417.2 543.6L1417.4 546.8L1417.7 546.9L1417.9 550L1418.1 550.2L1418.3 553.2L1418.5 553.5L1418.7 556.4L1419 556.8L1419.2 559.5L1419.4 559.9L1419.6 562.5L1419.8 563.1L1420.1 565.6L1420.3 566.2L1420.5 568.6L1420.7 569.3L1421 571.6L1421.2 572.4L1421.4 574.6L1421.7 575.5L1421.9 577.6L1422.1 578.5L1422.3 580.6L1422.6 581.6L1422.8 583.6L1423 584.8L1423.2 586.8L1423.5 588.1L1423.7 590.1L1423.9 591.2L1424.1 592.8L1424.3 594L1424.4 595.6L1424.6 596.9L1424.8 598.4L1425 599.8L1425.2 601.3L1425.4 602.7L1425.6 604.2L1425.8 605.7L1425.9 607.2L1426.1 608.7L1426.3 610.2L1426.5 611.7L1426.7 613.2L1426.9 614.7L1427.1 616.3L1427.3 617.8L1427.4 619.3L1427.6 620.9L1427.8 622.5L1428 624L1428.2 625.6L1428.3 627.2L1428.5 628.7L1428.7 630.3C1430.5 646.1 1432.9 663.8 1433.7 680.6C1434.5 697.3 1432.7 716.3 1433.7 730.9C1434.5 742.3 1437.2 751 1437.8 761.1C1438.4 771.1 1436.5 782.3 1437.6 791.3C1438.5 798.7 1441.7 804 1442.6 811.4C1443.7 820.4 1441.5 832.6 1442.6 841.6C1443.5 849 1446.5 854.9 1447.6 861.7C1448.7 868.4 1448.1 875.2 1449 881.9C1449.9 888.6 1451.6 895.3 1453.1 902C1454.6 908.7 1456.5 914.9 1458.1 922.1C1459.9 930.2 1460.9 940 1463.1 948.3C1465.2 956 1468.6 962.9 1470.8 970.1C1472.8 976.9 1474.6 983.5 1475.8 990.3C1477 997 1476.6 1003.7 1477.8 1010.4C1479 1017.1 1481.4 1023.8 1482.8 1030.5C1484.2 1037.2 1485.3 1043.9 1486.3 1050.6C1487.2 1057.3 1487.2 1064.1 1488.5 1070.8C1489.8 1077.6 1492.7 1084.1 1493.9 1090.9C1495.1 1097.6 1494.5 1104.7 1495.9 1111C1497.1 1116.7 1499 1126.5 1501.4 1127.1C1503 1127.5 1505.4 1124.2 1507 1122C1509.1 1119.2 1510.6 1115.3 1512 1111C1513.9 1105.4 1514.9 1097.6 1516.5 1090.9C1518.1 1084.2 1520.3 1077.6 1521.5 1070.8C1522.7 1064.1 1522.7 1057.3 1523.5 1050.6C1524.3 1043.9 1525.3 1037.2 1526.1 1030.5C1526.9 1023.8 1527.7 1017.1 1528.5 1010.4C1529.3 1003.7 1530.5 997 1531 990.3C1531.5 983.6 1530.7 976.8 1531.6 970.1C1532.5 963.3 1535.1 958.5 1536.2 950C1538.1 935.7 1538.1 909.5 1538.6 891.9C1539 877.3 1538.3 865.1 1539.2 851.7C1540.1 838.2 1543.2 824.9 1544.2 811.4C1545.2 798 1544.9 784.6 1545 771.2C1545.1 757.8 1543.9 742 1545 730.9C1545.8 723 1548.1 719.4 1549 710.8C1550.6 696.1 1549.3 670.5 1550 650.4C1550.7 630.3 1551.9 609.9 1553.1 590C1554.3 570.4 1555 549.4 1557.1 531.9C1558.8 517.2 1561.8 504.1 1563.8 491.7C1565.5 480.9 1566 471.5 1568.4 461.5C1570.9 451.3 1575.4 440.3 1578.5 431.3C1581 423.9 1582.8 417.8 1585.5 411.2C1588.3 404.4 1592.1 397.4 1595 391C1597.6 385.4 1599.3 379.2 1602 375C1604 371.8 1606.8 367.1 1608.7 367.3C1610.4 367.5 1611.9 371.9 1613 375C1614.5 379.3 1614.6 384.5 1615.7 391C1617.4 401.4 1619.7 417.9 1622.1 431.3C1624.5 444.9 1627.1 460.4 1630 472C1632.2 480.8 1634.7 495 1637.2 495C1639.7 495 1642.9 480.9 1645 472C1647.8 460.5 1649.2 444.9 1650.9 431.3C1652.6 417.9 1653.7 402.1 1655 391C1655.9 383.1 1656.1 377.5 1657.6 370.9C1659.1 364.1 1660 354.7 1664 350.8C1667.4 347.5 1673.6 346.7 1678.1 346.7C1682.2 346.7 1686.1 348.2 1690 350C1694.3 352 1698.9 355.7 1702.8 358.5C1706.3 361 1709 362.7 1712.3 365.9C1716.9 370.3 1722.7 377.1 1726.9 383.2C1731 389.2 1733.7 396.5 1737.5 402C1740.8 406.9 1744.3 413.7 1748 414.9C1750.6 415.8 1753.6 414.2 1756 413C1758.3 411.8 1760.4 407.5 1762.1 407.9C1764.3 408.4 1765.6 415.2 1767 420C1768.9 426.6 1769.6 434.8 1771 444.2C1773 457.3 1776 475.5 1777.6 491.2C1779.2 506.8 1779.5 522.5 1780.4 538.1C1781.3 553.7 1782 569.4 1782.8 585C1783.6 600.6 1784.4 616.3 1785.1 631.9C1785.8 647.6 1786.1 666.9 1787.2 678.9C1787.9 686.5 1789 690.3 1789.6 697.3C1790.4 706.4 1790.3 719.4 1791 729C1791.6 737 1792 745 1793.2 751C1794.1 755.3 1795.4 761.8 1796.6 761.8C1797.8 761.8 1799.2 755.3 1800.2 751C1801.6 745 1802.6 737 1803.5 729C1804.6 719.4 1805.1 708.9 1806 697.3C1807.1 683.2 1808.2 665.6 1809.5 650.4C1810.8 636 1812.5 622.9 1813.7 608.5C1814.9 593.3 1815.7 577.2 1816.6 561.6C1817.5 545.9 1818.2 530.3 1818.9 514.6C1819.6 499 1819.5 483.6 1820.8 467.7C1822.1 451 1827 416.6 1827 416.6"/>
<path id="c-magenta" stroke="#ff00ff" d="M159 85.2C159 85.2 170.6 86.8 176.8 87.6L178.3 87.8L179.8 88.2L181.3 87.7L182.9 89.1L184.4 87.3L186 89.8L187.5 87.6L189.1 89.8L190.7 88.2L192.2 89.5L193.8 88.6L195.3 90.7L196.8 88.8L198.3 92L199.8 89.2L201.3 93L202.8 90.5L204.3 93.4L205.7 91.9L207.2 93.9L208.6 93.3L210 95L211.5 94.3L212.9 96.2L214.3 95.2L215.7 97.3L217.1 95.6L218.8 98.8L220.4 95.3L222.1 100.3L223.8 94.9L225.4 101.7L227 96.3L228.6 102.8L230.2 97.7L231.7 103.7L233.2 98.1L234.8 103.1L236.4 97.3L237.9 102.1L239.4 96.2L240.9 101.2L242.4 96.3L243.9 100.9L245.4 96.6L246.9 100.4L248.5 96.4L250.1 99.6L251.6 95.3L253.1 99.1L254.6 94.7L256 99.2L257.5 95L259 100.5L260.4 96.2L261.8 102.6L263.1 98L264.3 105L265.4 100.3L266.3 107.1L267.2 102.8L267.9 109.4L268.6 105.6L269.3 111.9L269.9 108.5L270.5 114.7L271 111.6L271.6 117.8L272.1 115.4L272.7 121.7L273.1 119.6L273.6 125.5L274 123.3L274.3 128.4L274.4 125.6L274.5 128L275.5 159.5L278.5 159.5L279.5 129L280.2 128.1L281.8 130.1L284 126.1L286 130.5L287.3 125.5L288.8 131.6L290.3 126.4L291.8 132.6L293.3 128.1L294.8 134.2L296.3 130.3L297.6 136.2L298.6 133L299.5 138.2L300.4 135.9L301.3 140.8L302.1 139.2L303 143.7L303.8 142.6L304.6 146.7L305.4 145.6L306.2 149.8L307.1 148.2L308 152.4L309.4 150.6L310.7 155.2L312.1 152.5L313.5 157.3L315 153.1L316.4 159.4L317.5 154L318.7 161.4L319.9 154.9L321.1 163L322.3 157.2L323.5 164.4L324.7 159.7L325.8 165.9L327 162.3L328 167.5L329 164.7L330 169.3L330.9 167.2L331.9 171.2L332.9 169.9L333.8 173.2L334.8 172.6L335.8 175.2L336.8 175.2L337.9 178L338.8 177.3L339.8 180.5L340.7 179.4L341.7 183.1L342.7 181.6L343.7 185.8L344.7 184.1L345.7 188.7L346.8 186.9L347.8 191.6L348.8 189.6L349.9 194.5L350.9 192.3L351.9 197.3L353 194.6L354 199L355.1 196.6L356.1 200.7L357.2 198.6L358.3 202.4L359.4 200.6L360.5 204.2L361.5 203L362.6 206.4L363.7 205.5L364.8 208.6L365.9 208L366.9 210.8L368 210.4L369 213.2L370 212.9L371 215.7L372 215.5L372.9 218.2L373.9 218.1L374.8 220.8L375.7 220.7L376.6 223.1L377.5 223L378.5 225.2L379.4 225.2L380.4 227.2L381.4 227.2L382.4 229.1L383.5 229.1L384.7 231L386 231.3L387.2 232.9L388.5 233.2L389.9 234.5L391.2 235L392.6 235.9L394 236.5L395.4 237.2L396.8 237.8L398.2 238.5L399.6 239.2C405.5 242 412.6 245.9 418.4 246.2C423.2 246.4 427.6 245 431.8 242.7C436.6 240 440.9 234.7 445.2 229.8C449.9 224.3 454.1 217.3 458.6 211C463.1 204.7 467.2 197.5 472 192.2C476.2 187.6 480.9 184.2 485.5 180.7C489.9 177.3 493.8 175.2 498.9 171.3C506.4 165.6 516.6 156.1 525.7 149.3C534.5 142.7 543.5 136.4 552.6 131C561.4 125.8 570.3 121 579.4 117.1C588.2 113.3 598 110.3 606.2 107.7C613 105.5 619.3 102.4 625 102.3C629.6 102.2 633.6 104.6 637.6 105.6C641.3 106.5 645.6 107.1 648.3 108.2C650.1 109 651.1 109.9 652.5 110.8C653.9 111.7 655.3 113.6 656.6 113.6C657.9 113.6 659.3 111.7 660.5 110.5C661.8 109.3 662.6 108.1 664 106.5C666.2 104.1 669.4 99.2 672.5 97.8C675 96.6 677.9 96.9 680.5 97.2C683.2 97.5 686.1 100.4 688.6 99.9C691.1 99.4 692.6 96.1 695.3 94.3C698.7 92 702.4 89.2 707.4 87.6C714.4 85.4 724.8 85.6 734.2 84.9C744.4 84.2 754.6 83.3 766.4 83.5C780.9 83.7 798.2 85.7 814.7 87C832.1 88.3 850.5 89.5 868.4 91.3C886.3 93.1 905.4 96 922 97.8C936.4 99.4 950.2 100.8 962.3 101.8C972.2 102.6 980.3 102.6 989.2 103.7C998.2 104.8 1007.1 106.7 1016 108.2C1024.9 109.7 1033.9 110.9 1042.8 112.8C1051.8 114.7 1061.4 118.3 1069.7 119.8C1076.6 121.1 1082.1 121.4 1089 122C1096.9 122.7 1106.4 122 1114.4 123.4L1116 123.7L1117.7 124.1L1119.3 124.5L1120.9 125L1122.5 125.5L1124.1 126L1125.7 126.5L1127.3 126.9L1128.8 127.6L1130.3 127.7L1131.8 129L1133.2 128.1L1134.6 130.6L1135.9 128.2L1137.6 131.7L1139.1 128.9L1140.5 132.3L1141.9 129.6L1143.4 132.5L1144.9 129.9L1146.6 133L1147.9 129.2L1149.3 133.3L1150.9 128.2L1152.4 133.3L1154 127.6L1155.7 133.8L1157.4 127.2L1159 134.2L1160.7 126.9L1162.3 133.5L1163.9 127.2L1165.4 132.6L1166.8 127.7L1168.1 132L1169.8 127.7L1171.4 132.3L1172.8 127.7L1174.2 133.1L1175.7 128L1177.2 133.9L1178.8 129.3L1180.2 134.4L1181.7 130.4L1183.3 134.6L1184.8 131.3L1186.5 136.1L1188.1 132L1189.7 138.2L1191.4 132.8L1193 139.7L1194.5 134.4L1196 140.1L1197.3 136.3L1198.7 140.7L1200 138.5L1201.3 142.2L1202.6 139.7L1203.8 144.3L1205.1 141L1206.3 146.5L1207.5 142.4L1208.7 148.5L1209.9 144.3L1211 150.2L1212.3 146.3L1213.6 152.1L1214.8 148.5L1216 154L1217.2 150.5L1218.3 156.5L1219.5 152.3L1220.6 159L1221.8 154.2L1222.9 161.5L1224 156L1225.1 163.8L1226.1 157.5L1227.2 165.8L1228.3 159.1L1229.4 168L1230.4 160.8L1231.5 170.2L1232.5 162.7L1233.5 172.5L1234.6 165.2L1235.7 174.9L1236.8 167.8L1237.9 177.5L1239 170.4L1240 180.1L1241 173.5L1241.8 182.2L1242.6 176.8L1243.2 184.5L1243.7 180.1L1243.9 187.5L1244 183.5L1244 190.8L1244.1 186.8L1244.4 193.8L1245 190.2L1245.8 196.2L1246.8 193.7L1248 198.5L1249.3 196.5L1250.7 201.8L1252.1 197.9L1253.5 204.3L1254.8 198.4L1256.1 205.5L1257.3 197.7L1258.5 203.8L1259.7 195.8L1260.9 200.9L1262.1 192.9L1263.3 197.3L1264.3 189.7L1265.3 193.8L1266.2 187L1266.9 190.8L1267.5 184.4L1267.8 187.5L1268 181.1L1268 184L1268.1 177.7L1268.2 180.6L1268.5 174.6L1269 177.7L1269.8 172.1L1270.7 174.8L1271.7 170L1272.9 172.6L1274.1 168.7L1275.4 171.9L1276.7 168.6L1278.2 172.6L1279.8 169.7L1281.4 173.4L1283.1 169.5L1284.7 173.6L1286.2 169.5L1287.6 174L1288.9 170.5L1290.3 176.7L1291.6 173L1292.9 180L1294.2 175.5L1295.6 183.2L1296.9 177.4L1298.4 184.3L1299.9 178.2L1301.5 184.8L1303 178.8L1304.5 185.4L1306.1 180.1L1307.6 187L1309.1 181.7L1310.7 188.5L1312.2 183.1L1313.8 189.7L1315.3 184.5L1316.9 190.9L1318.4 186L1319.8 192.2L1321.1 187.5L1322.5 193.8L1323.8 189L1325.2 195.6L1326.5 190.7L1327.8 197.6L1329.1 193.2L1330.2 199.9L1331.3 196.4L1332.4 202.5L1333.5 199.8L1334.5 205.2L1335.6 203.3L1336.6 208L1337.7 205.3L1338.8 210.7L1339.9 206.7L1341.1 213.1L1342.2 207.8L1343.4 215.4L1344.7 209.1L1345.9 216.5L1347.1 211.6L1348.3 217.3L1349.4 214.1L1350.6 218.3L1351.7 216.8L1352.8 220L1353.9 219.4L1355.1 222.8L1356.1 222L1357.2 225.6L1358.3 224.6L1359.3 228.4L1360.3 227.1L1361.3 230.9L1362.4 229.4L1363.4 233.5L1364.4 231.9L1365.4 236.1L1366.3 234.3L1367.2 238.7L1368.2 236.8L1369.1 241.7L1370 239.1L1370.9 244.9L1371.7 241.5L1372.6 248.1L1373.4 243.8L1374.3 251.3L1375.1 246L1376 254.4L1376.9 248.7L1377.8 256.3L1378.7 251.7L1379.6 258.2L1380.6 254.7L1381.5 260.2L1382.3 257.9L1383.2 262.6L1383.8 261.1L1384.4 264.8L1385.1 263.5L1385.7 267.5L1386.3 266L1386.8 270.4L1387.4 268.7L1388 273.4L1388.5 271.4L1389.1 276.5L1389.7 274.2L1390.2 279.5L1390.8 276.9L1391.3 282.5L1391.8 279.6L1392.4 285.4L1392.9 282.2L1393.4 288.6L1394 284.9L1394.5 291.7L1395 287.6L1395.5 294.8L1396 290.4L1396.5 297.8L1397 293.2L1397.4 300.8L1397.9 296L1398.3 303.8L1398.7 298.9L1399.1 307L1399.5 302L1399.8 310.2L1400.2 305.1L1400.5 313.1L1400.8 308.4L1401.1 316L1401.4 311.7L1401.7 318.9L1402 314.9L1402.4 321.8L1402.7 318.2L1403.1 324.6L1403.4 321.5L1403.8 327.5L1404.2 324.7L1404.6 330.3L1405 328L1405.4 333.2L1405.8 331.2L1406.2 336L1406.6 334.4L1407 338.9L1407.3 337.7L1407.6 341.9L1407.9 340.9L1408.1 344.9L1408.4 344L1408.6 347.9L1408.8 347.1L1409 351L1409.1 350.2L1409.3 354.1L1409.5 353.4L1409.7 357.1L1409.9 356.5L1410.2 360.2L1410.4 359.6L1410.7 363.3L1411 362.8L1411.3 366.3L1411.6 365.9L1411.9 369.4L1412.3 369.1L1412.6 372.5L1413 372.2L1413.3 375.5L1413.6 375.4L1413.9 378.6L1414.2 378.5L1414.4 381.7L1414.6 381.7L1414.8 384.7L1415 384.7L1415.2 387.7L1415.3 387.7L1415.4 390.6L1415.6 390.7L1415.7 393.7L1415.8 393.8L1416 396.8L1416.1 397L1416.2 400L1416.4 400.4L1416.5 403L1416.6 403.2L1416.8 405.9L1416.9 406.2L1417 408.9L1417.1 409.3L1417.2 412L1417.4 412.4L1417.5 415.1L1417.6 415.6L1417.7 418.3L1417.9 418.8L1418 421.4L1418.1 422L1418.3 424.5L1418.4 425.1L1418.5 427.5L1418.7 428L1418.8 430.3L1419 430.9L1419.2 433.3L1419.4 434.2L1419.7 436.4L1419.9 437.2L1420.2 439.3L1420.5 440.2L1420.7 442.2L1421 443.1L1421.2 445.1L1421.5 446.1L1421.7 448.2L1421.9 449.4L1422.1 451.6L1422.2 452.5L1422.3 454.2L1422.4 455.3L1422.5 457L1422.6 458.2L1422.6 460L1422.7 461.3L1422.8 463.1L1422.8 464.4L1422.8 466.3L1422.9 467.6L1422.9 469.5L1423 470.9L1423 472.8L1423 474.2L1423 476.1L1423.1 477.5L1423.1 479.4L1423.1 480.8L1423.2 482.6L1423.2 484L1423.3 485.8L1423.3 487.1L1423.4 488.9L1423.4 490.2L1423.5 491.8L1423.6 493.2L1423.7 495L1423.7 496.5L1423.8 498.2L1423.9 499.6L1424 501.3L1424.1 502.8L1424.2 504.4L1424.3 505.9L1424.4 507.5L1424.5 508.9L1424.6 510.5L1424.7 511.9L1424.8 513.4L1424.9 514.9L1425 516.3L1425.1 517.7L1425.2 519.2L1425.4 520.5L1425.5 521.9C1426.3 529.3 1427.7 533.8 1428.3 542C1429.2 554.5 1427.6 574.7 1428.4 590C1429.1 604 1430.9 616.9 1432.3 630.3C1433.7 643.7 1435.5 657.1 1436.6 670.5C1437.6 683.9 1437.3 699.7 1438.6 710.8C1439.5 718.7 1441.1 724.2 1442.4 730.9C1443.7 737.6 1444.7 744.3 1446.2 751C1447.7 757.8 1449.5 764.5 1451.6 771.2C1453.7 777.9 1456.1 784.6 1458.7 791.3C1461.3 798 1464.5 804.7 1467.1 811.4C1469.7 818.1 1472.1 824.8 1474.2 831.5C1476.3 838.2 1477.8 845 1479.8 851.7C1481.8 858.4 1484.4 865.1 1486.3 871.8C1488.1 878.5 1489.2 885.2 1490.9 891.9C1492.6 898.6 1494.2 906.2 1496.3 912.1C1498 917 1499.4 924.1 1502 925.1C1503.9 925.9 1506.9 923.7 1509 922C1511.7 919.8 1514.2 916.2 1516 912.1C1518.4 906.7 1519.1 898.6 1520.5 891.9C1521.9 885.2 1523.6 878.5 1524.5 871.8C1525.4 865.1 1525 858.4 1526.1 851.7C1527.2 844.9 1530 839 1531.2 831.5C1532.6 822.5 1532.4 811.4 1533.2 801.4C1534 791.3 1535.3 781.3 1536 771.2C1536.7 761.1 1537 751.1 1537.6 741C1538.2 730.9 1539.2 721.6 1539.6 710.8C1540 698.3 1538.8 681.6 1539.8 670.5C1540.5 662.6 1542.4 658.3 1543.2 650.4C1544.3 639.3 1544.4 621.5 1544.6 610.1C1544.7 601.7 1544.5 596.5 1544.6 588.3C1544.8 577.8 1544.6 562.4 1545.7 552.1C1546.5 544.4 1548.5 539.8 1549.3 531.9C1550.4 520.8 1549.7 506.5 1549.9 491.7C1550.2 473.6 1550.1 449.4 1550.7 431.3C1551.2 416.5 1551.9 404.4 1552.7 391C1553.5 377.6 1554.5 364.2 1555.3 350.8C1556.1 337.4 1556.5 323.9 1557.3 310.5C1558.1 297.1 1559.3 283.7 1560.3 270.3C1561.4 256.9 1562.5 244.9 1563.6 230C1565 211.5 1564.9 185.1 1567.7 167.6C1569.8 154.6 1573.8 143.3 1576.4 134.1C1578.2 127.5 1579 121.6 1581.4 117.3C1583.2 114 1585.2 111.7 1588.1 109.8C1591.4 107.6 1597.5 104.5 1600.7 105.6C1603.7 106.6 1605.3 111.1 1607 115C1609.2 120.1 1610.3 126.8 1611.6 134.1C1613.3 143.7 1614.5 156.4 1615.8 167.6C1617 178.8 1617.9 189.9 1619.1 201.1C1620.4 212.3 1621.8 223.4 1623.3 234.6C1624.8 245.8 1626.3 258.1 1627.9 268.1C1629.2 276.2 1630.5 283.7 1632 290C1633.2 294.9 1634.5 303 1635.8 303C1637.1 303 1638.6 294.9 1640 290C1641.7 283.7 1643.7 276.2 1645 268.1C1646.6 258.2 1647.4 245.8 1648.5 234.6C1649.6 223.4 1650.9 212.3 1651.8 201.1C1652.7 189.9 1653 178.8 1653.8 167.6C1654.6 156.4 1655.5 144.4 1656.8 134.1C1658 125.1 1658.9 116 1661 108.9C1662.6 103.5 1664 99.1 1667 95C1670.1 90.7 1675.7 84 1679.5 83.8C1682.5 83.6 1685.3 87.5 1688 90C1691 92.8 1693.4 96.5 1696.2 100.2C1699.3 104.3 1703 109.1 1705.9 113.6C1708.7 118 1711.2 122.5 1713.6 127C1715.9 131.4 1717.9 136 1719.9 140.5C1721.8 144.9 1723.4 149.5 1725.3 153.9C1727.2 158.4 1729.6 162.8 1731.3 167.3C1733 171.7 1734.1 176.2 1735.4 180.7C1736.7 185.2 1737.7 189.7 1739.1 194.1C1740.6 198.6 1742.5 203 1744.1 207.5C1745.7 212 1747.3 217.2 1748.8 220.9C1749.9 223.7 1750.6 226.4 1752 228C1753.1 229.2 1754.4 229.9 1756 230.3C1758 230.8 1761.2 229.2 1763 230C1764.5 230.7 1765.4 232.1 1766.3 234C1767.7 237.1 1767.9 242.4 1768.6 247.7C1769.6 255.2 1770.8 265.9 1771.6 274.6C1772.4 282.8 1772.9 290.3 1773.5 298.7C1774.1 307.7 1774.6 316.3 1775.3 326.9C1776.2 340.6 1777.8 358.2 1778.8 373.9C1779.8 389.5 1780.5 405.2 1781.4 420.8C1782.3 436.4 1783.4 452.1 1784.4 467.7C1785.4 483.3 1786.4 499 1787.2 514.6C1788.1 530.3 1788.8 545.9 1789.5 561.6C1790.2 577.2 1790.7 594.9 1791.5 608.5C1792.1 618.9 1792.3 628.4 1793.6 636C1794.5 641.5 1796 650 1797.3 650C1798.6 650 1800.1 641.5 1801.2 636C1802.7 628.4 1803.4 618.9 1804.5 608.5C1806 594.9 1807.7 577.2 1809 561.6C1810.4 545.9 1811.6 530.3 1812.6 514.6C1813.6 499 1814 483.3 1814.9 467.7C1815.8 452.1 1817 436.4 1818 420.8C1819 405.2 1819.5 389.4 1821 373.9C1822.5 358.6 1827 328.5 1827 328.5"/>
</g>
<g id="legend" stroke-width="12.5" stroke-linecap="round" font-size="93">
<line x1="197.2" y1="1071.0" x2="323.8" y2="1071.0" stroke="#ff00ff"/>
<text class="serif" x="348.5" y="1090.9" fill="#ff00ff" stroke="none">MZ-9-6.4</text>
<line x1="197.2" y1="1185.0" x2="323.8" y2="1185.0" stroke="#0000ff"/>
<text class="serif" x="348.5" y="1205.2" fill="#0000ff" stroke="none">MZ-9-3.2</text>
<line x1="197.2" y1="1299.3" x2="323.8" y2="1299.3" stroke="#ff0000"/>
<text class="serif" x="348.5" y="1319.2" fill="#ff0000" stroke="none">MZ-9-1.6</text>
<line x1="197.2" y1="1413.7" x2="323.8" y2="1413.7" stroke="#000000"/>
<text class="serif" x="348.5" y="1434.0" fill="#000000" stroke="none">MZ-9-0</text>
</g>
<g id="ticklabels" class="sans" font-size="93" text-anchor="middle" fill="#000">
<text transform="translate(159.0,1629.8) scale(1,1.05)" x="0" y="0">4000</text>
<text transform="translate(622.3,1629.8) scale(1,1.05)" x="0" y="0">3000</text>
<text transform="translate(1085.7,1629.8) scale(1,1.05)" x="0" y="0">2000</text>
<text transform="translate(1549.0,1629.8) scale(1,1.05)" x="0" y="0">1000</text>
</g>
<g id="one-foot-mask" fill="#ffffff">
<rect x="1449" y="1619.5" width="18.2" height="13"/><rect x="1480" y="1619.5" width="16.4" height="13"/>
</g>
<g id="titles" class="sans" fill="#000" font-size="93">
<text transform="translate(561.5,1736.8) scale(1,1.015)" x="0" y="0">Wavenumber <tspan x="608.8" y="-0.9" font-size="100.5">(</tspan><tspan x="647" y="0">cm</tspan><tspan x="780.8" y="-50.4" font-size="55">-1</tspan><tspan x="831" y="-0.9" font-size="100.5">)</tspan></text>
<text transform="translate(111,1184) rotate(-90) scale(1,1.015)" x="0" y="0">Transmittance (%)</text>
</g>
<g id="sup-one-foot-mask" fill="#ffffff"><rect x="1361" y="1678.8" width="12" height="8.5"/><rect x="1381.3" y="1678.8" width="10.5" height="8.5"/></g>
</svg>
</body>
</html>
